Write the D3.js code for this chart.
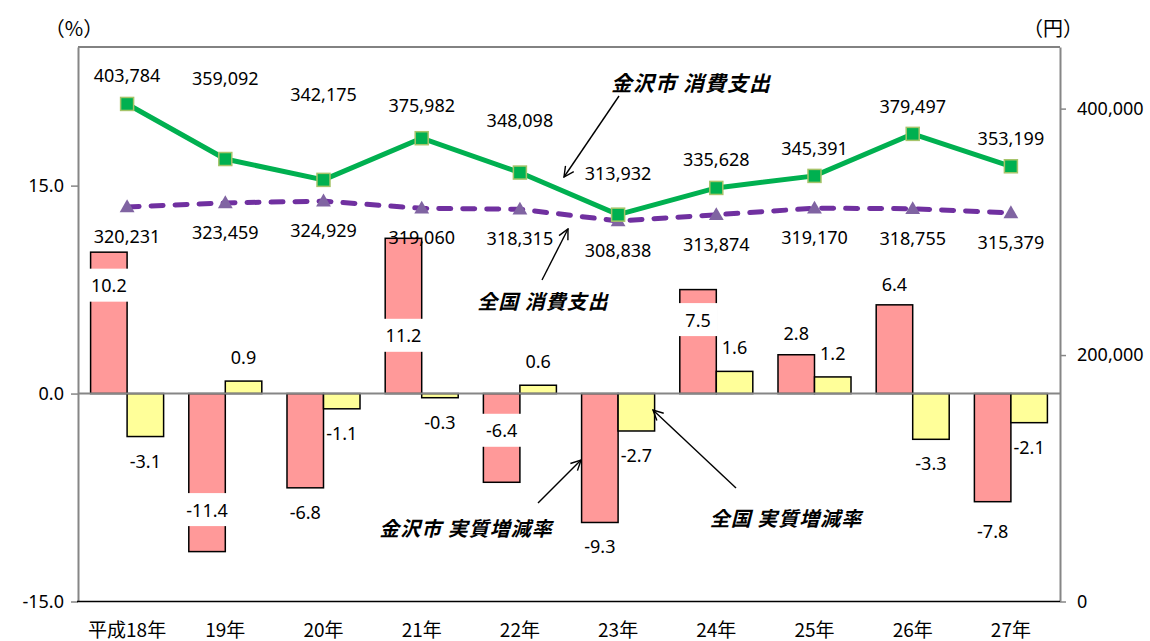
<!DOCTYPE html>
<html>
<head>
<meta charset="utf-8">
<script src="https://cdn.jsdelivr.net/npm/d3@7"></script>
<style>
  body { margin: 0; background: #fff; }
  text { font-family: "Noto Sans", "Noto Sans CJK JP", sans-serif; }
</style>
</head>
<body>
<div class="svg-container"></div>
<script>
/*** Data ***/

const years = ['平成18年', '19年', '20年', '21年', '22年', '23年', '24年', '25年', '26年', '27年']

// 消費支出 (円)
const kanazawaSpend = [403784, 359092, 342175, 375982, 348098, 313932, 335628, 345391, 379497, 353199]
const zenkokuSpend = [320231, 323459, 324929, 319060, 318315, 308838, 313874, 319170, 318755, 315379]

// 実質増減率 (%)
const kanazawaRate = [10.2, -11.4, -6.8, 11.2, -6.4, -9.3, 7.5, 2.8, 6.4, -7.8]
const zenkokuRate = [-3.1, 0.9, -1.1, -0.3, 0.6, -2.7, 1.6, 1.2, -3.3, -2.1]

const leftTicks = [-15, 0, 15]
const rightTicks = [0, 200000, 400000]

/*** Layout ***/

const svgWidth = 1150
const svgHeight = 641

const plotLeft = 78
const plotRight = 1060
const plotTop = 47
const plotBottom = 601.5

// label nudges (px beyond the bar end, negative = inside the bar on white)
const kanazawaRateShift = [-33, -42, 24, -97, -52, 24, -30, 22, 21, 29]
const zenkokuRateShift = 24
// green labels, px above the marker
const kanazawaSpendShift = [29, 81, 86, 33, 53, 42, 29, 28, 28, 28]
const zenkokuSpendShift = 29

let svg = d3.select('.svg-container')
    .append('svg')
    .attr('width', svgWidth)
    .attr('height', svgHeight)

/* Scales */

let xScale = d3.scaleBand()
    .domain(years)
    .range([plotLeft, plotRight])

let subScale = d3.scaleBand()
    .domain(['kanazawa', 'zenkoku'])
    .range([0, xScale.bandwidth()])
    .paddingOuter(0.345)

let yLeft = d3.scaleLinear()
    .domain([-15, 25])
    .range([plotBottom, plotTop])

let yRight = d3.scaleLinear()
    .domain([0, 450000])
    .range([plotBottom, plotTop])

const cx = (d) => xScale(d) + xScale.bandwidth() / 2

/* Plot frame */

svg.append('line')
    .attr('x1', plotLeft).attr('x2', plotRight)
    .attr('y1', plotTop).attr('y2', plotTop)
    .attr('stroke', '#595959').attr('stroke-width', 1.5)

/* Bars */

let rateRows = years.map((y, i) => ({year: y, k: kanazawaRate[i], z: zenkokuRate[i], i: i}))

let bars = svg.append('g')

bars.selectAll('rect.k')
    .data(rateRows)
    .enter()
    .append('rect')
    .attr('class', 'k')
    .attr('x', (d) => xScale(d.year) + subScale('kanazawa'))
    .attr('y', (d) => yLeft(Math.max(0, d.k)))
    .attr('width', subScale.bandwidth())
    .attr('height', (d) => Math.abs(yLeft(d.k) - yLeft(0)))
    .attr('fill', '#FF9999')
    .attr('stroke', '#000')
    .attr('stroke-width', 1.5)

bars.selectAll('rect.z')
    .data(rateRows)
    .enter()
    .append('rect')
    .attr('class', 'z')
    .attr('x', (d) => xScale(d.year) + subScale('zenkoku'))
    .attr('y', (d) => yLeft(Math.max(0, d.z)))
    .attr('width', subScale.bandwidth())
    .attr('height', (d) => Math.abs(yLeft(d.z) - yLeft(0)))
    .attr('fill', '#FFFF99')
    .attr('stroke', '#000')
    .attr('stroke-width', 1.5)

/* Axes */

let leftAxis = d3.axisLeft(yLeft)
    .tickValues(leftTicks)
    .tickFormat((d) => d.toFixed(1))
    .tickSize(7)
    .tickSizeOuter(0)

let yAxis = svg.append('g')
    .attr('transform', `translate(${plotLeft}, 0)`)
    .call(leftAxis)

let rightAxis = d3.axisRight(yRight)
    .tickValues(rightTicks)
    .tickFormat(d3.format(','))
    .tickSize(6)
    .tickSizeOuter(0)

let y2Axis = svg.append('g')
    .attr('transform', `translate(${plotRight}, 0)`)
    .call(rightAxis)

for (let ax of [yAxis, y2Axis]) {
    ax.select('path').attr('stroke', '#868686').attr('stroke-width', 2)
    ax.selectAll('line').attr('stroke', '#868686').attr('stroke-width', 1.5)
    ax.selectAll('text')
        .attr('fill', '#000')
        .style('font-size', '18px')
        .style('font-family', '"Noto Sans", sans-serif')
}
yAxis.selectAll('text').attr('x', -14)
y2Axis.selectAll('text').attr('x', 17)

// zero line
svg.append('line')
    .attr('x1', plotLeft).attr('x2', plotRight)
    .attr('y1', yLeft(0)).attr('y2', yLeft(0))
    .attr('stroke', '#868686').attr('stroke-width', 2)

// bottom edge
svg.append('line')
    .attr('x1', plotLeft - 1).attr('x2', plotRight)
    .attr('y1', plotBottom).attr('y2', plotBottom)
    .attr('stroke', '#000').attr('stroke-width', 1.5)

// category labels
svg.append('g')
    .selectAll('text')
    .data(years)
    .enter()
    .append('text')
    .attr('x', (d) => cx(d))
    .attr('y', 637)
    .attr('text-anchor', 'middle')
    .style('font-size', '19px')
    .style('font-family', '"Noto Sans CJK JP", sans-serif')
    .text((d) => d)

// unit labels
svg.append('text')
    .attr('x', 74).attr('y', 27)
    .attr('text-anchor', 'middle')
    .attr('dominant-baseline', 'central')
    .style('font-size', '20px')
    .style('font-family', '"Noto Sans CJK JP", sans-serif')
    .text('（%）')

svg.append('text')
    .attr('x', 1053).attr('y', 27)
    .attr('text-anchor', 'middle')
    .attr('dominant-baseline', 'central')
    .style('font-size', '20px')
    .style('font-family', '"Noto Sans CJK JP", sans-serif')
    .text('（円）')

/* Lines */

let kLine = d3.line()
    .x((d, i) => cx(years[i]))
    .y((d) => yRight(d))

svg.append('path')
    .datum(zenkokuSpend)
    .attr('d', kLine)
    .attr('fill', 'none')
    .attr('stroke', '#7030A0')
    .attr('stroke-width', 5)
    .attr('stroke-dasharray', '12,12')
    .attr('stroke-linecap', 'round')

svg.append('path')
    .datum(kanazawaSpend)
    .attr('d', kLine)
    .attr('fill', 'none')
    .attr('stroke', '#00B050')
    .attr('stroke-width', 5)

svg.append('g')
    .selectAll('path')
    .data(zenkokuSpend)
    .enter()
    .append('path')
    .attr('d', d3.symbol().type(d3.symbolTriangle).size(95))
    .attr('transform', (d, i) => `translate(${cx(years[i])}, ${yRight(d) + 1})`)
    .attr('fill', '#8064A2')

svg.append('g')
    .selectAll('rect')
    .data(kanazawaSpend)
    .enter()
    .append('rect')
    .attr('x', (d, i) => cx(years[i]) - 6.5)
    .attr('y', (d) => yRight(d) - 6.5)
    .attr('width', 13)
    .attr('height', 13)
    .attr('fill', '#00B050')
    .attr('stroke', '#A6C46A')
    .attr('stroke-width', 1.5)

/* Data labels */

const numFmt = d3.format(',')

let labels = svg.append('g')
    .style('font-size', '18px')
    .style('font-family', '"Noto Sans", sans-serif')

labels.selectAll('text.ks')
    .data(kanazawaSpend)
    .enter()
    .append('text')
    .attr('x', (d, i) => cx(years[i]))
    .attr('y', (d, i) => yRight(d) - kanazawaSpendShift[i])
    .attr('text-anchor', 'middle')
    .attr('dominant-baseline', 'central')
    .text((d) => numFmt(d))

labels.selectAll('text.zs')
    .data(zenkokuSpend)
    .enter()
    .append('text')
    .attr('x', (d, i) => cx(years[i]))
    .attr('y', (d) => yRight(d) + zenkokuSpendShift)
    .attr('text-anchor', 'middle')
    .attr('dominant-baseline', 'central')
    .text((d) => numFmt(d))

// rate labels
const rateY = (v, shift) => yLeft(v) + (v >= 0 ? -shift : shift)

let kLab = labels.selectAll('g.kr')
    .data(rateRows)
    .enter()
    .append('g')
    .attr('transform', (d) => `translate(${xScale(d.year) + subScale('kanazawa') + subScale.bandwidth() / 2}, ${rateY(d.k, kanazawaRateShift[d.i])})`)

kLab.append('text')
    .attr('text-anchor', 'middle')
    .attr('dominant-baseline', 'central')
    .text((d) => d.k.toFixed(1))

kLab.each(function (d) {
    if (kanazawaRateShift[d.i] >= 0) return
    let g = d3.select(this)
    let bb = g.select('text').node().getBBox()
    g.insert('rect', 'text')
        .attr('x', Math.min(bb.x - 2, -subScale.bandwidth() / 2 - 1.5))
        .attr('y', -16.5)
        .attr('width', Math.max(bb.width + 4, subScale.bandwidth() + 3))
        .attr('height', 33)
        .attr('fill', '#fff')
})

labels.selectAll('text.zr')
    .data(rateRows)
    .enter()
    .append('text')
    .attr('x', (d) => xScale(d.year) + subScale('zenkoku') + subScale.bandwidth() / 2)
    .attr('y', (d) => rateY(d.z, zenkokuRateShift))
    .attr('text-anchor', 'middle')
    .attr('dominant-baseline', 'central')
    .text((d) => d.z.toFixed(1))

/* Annotations */

svg.append('defs')
    .append('marker')
    .attr('id', 'arrow')
    .attr('viewBox', '0 0 12 12')
    .attr('refX', 11)
    .attr('refY', 6)
    .attr('markerWidth', 12)
    .attr('markerHeight', 12)
    .attr('markerUnits', 'userSpaceOnUse')
    .attr('orient', 'auto')
    .append('path')
    .attr('d', 'M1,1 L11,6 L1,11')
    .attr('fill', 'none')
    .attr('stroke', '#000')
    .attr('stroke-width', 1.4)

const notes = [
    {text: '金沢市 消費支出', x: 691, y: 82, from: [619, 96], to: [564, 177]},
    {text: '全国 消費支出', x: 543, y: 300, from: [542, 280], to: [568, 229]},
    {text: '金沢市 実質増減率', x: 466, y: 527, from: [538, 503], to: [581, 460]},
    {text: '全国 実質増減率', x: 786, y: 517, from: [736, 488], to: [653, 410]}
]

let noteG = svg.append('g')

noteG.selectAll('line')
    .data(notes)
    .enter()
    .append('line')
    .attr('x1', (d) => d.from[0]).attr('y1', (d) => d.from[1])
    .attr('x2', (d) => d.to[0]).attr('y2', (d) => d.to[1])
    .attr('stroke', '#000')
    .attr('stroke-width', 1.4)
    .attr('marker-end', 'url(#arrow)')

noteG.selectAll('text')
    .data(notes)
    .enter()
    .append('text')
    .attr('x', (d) => d.x)
    .attr('y', (d) => d.y)
    .attr('text-anchor', 'middle')
    .attr('dominant-baseline', 'central')
    .style('font-family', '"Noto Sans CJK JP", sans-serif')
    .style('font-size', (d, i) => i === 0 ? '21px' : '20px')
    .style('font-weight', 'bold')
    .style('font-style', 'italic')
    .style('letter-spacing', '1px')
    .text((d) => d.text)
</script>
</body>
</html>
